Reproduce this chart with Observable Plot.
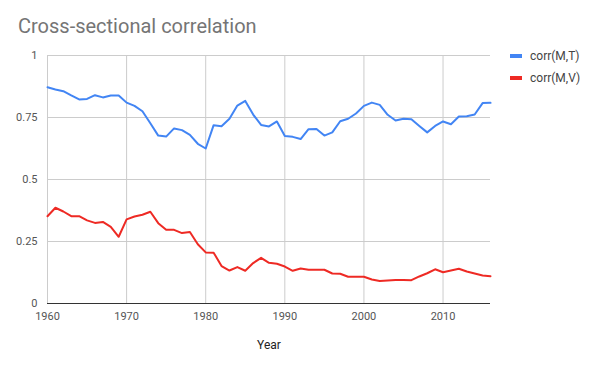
<!DOCTYPE html>
<html>
<head>
<meta charset="utf-8">
<script src="https://cdn.jsdelivr.net/npm/d3@7"></script>
<script src="https://cdn.jsdelivr.net/npm/@observablehq/plot@0.6"></script>
<style>
  html, body { margin: 0; padding: 0; background: #fff; }
  #wrap { position: relative; width: 599px; height: 370px; overflow: hidden; font-family: Roboto, sans-serif; }
  #title { height: 40px; box-sizing: border-box; padding: 16px 0 0 18px; font: 20px/20px Roboto, sans-serif; color: #757575; white-space: nowrap; }
  #legend { position: absolute; left: 510px; top: 48px; font: 12px Roboto, sans-serif; color: #444; }
  .item { display: flex; align-items: center; height: 16px; margin-bottom: 6px; }
  .sw { width: 12px; height: 4px; margin-right: 8px; }
</style>
</head>
<body>
<div id="wrap">
  <div id="title">Cross-sectional correlation</div>
  <div id="legend"></div>
  <div id="chart"></div>
</div>
<script>
const years = d3.range(1960, 2017);
const seriesNames = ["corr(M,T)", "corr(M,V)"];
const seriesColors = ["#4285f4", "#ee2a24"];
const corrMT = [
  0.872, 0.863, 0.856, 0.839, 0.823, 0.825, 0.840, 0.831, 0.839, 0.839,
  0.810, 0.797, 0.775, 0.727, 0.677, 0.673, 0.706, 0.699, 0.680, 0.644,
  0.625, 0.719, 0.715, 0.745, 0.798, 0.817, 0.762, 0.720, 0.714, 0.734,
  0.675, 0.672, 0.663, 0.703, 0.704, 0.677, 0.690, 0.735, 0.745, 0.766,
  0.797, 0.810, 0.801, 0.761, 0.738, 0.745, 0.743, 0.716, 0.690, 0.716,
  0.734, 0.723, 0.754, 0.755, 0.762, 0.808, 0.809
];
const corrMV = [
  0.352, 0.386, 0.371, 0.352, 0.352, 0.335, 0.325, 0.329, 0.309, 0.269,
  0.339, 0.351, 0.358, 0.370, 0.324, 0.297, 0.297, 0.284, 0.288, 0.239,
  0.206, 0.205, 0.151, 0.133, 0.147, 0.132, 0.163, 0.184, 0.164, 0.160,
  0.149, 0.132, 0.141, 0.136, 0.136, 0.136, 0.121, 0.120, 0.108, 0.108,
  0.108, 0.097, 0.091, 0.093, 0.095, 0.095, 0.094, 0.109, 0.122, 0.138,
  0.126, 0.133, 0.140, 0.129, 0.121, 0.113, 0.110
];
const xTicks = [1960, 1970, 1980, 1990, 2000, 2010];
const yTicks = [0, 0.25, 0.5, 0.75, 1];
const xLabel = "Year";

const rows = [];
years.forEach((yr, i) => {
  rows.push({year: yr, value: corrMT[i], series: seriesNames[0]});
  rows.push({year: yr, value: corrMV[i], series: seriesNames[1]});
});

const chart = Plot.plot({
  width: 599,
  height: 330,
  marginTop: 15,
  marginLeft: 47,
  marginRight: 109,
  marginBottom: 67,
  style: {fontFamily: "Roboto, sans-serif", fontSize: "11px", color: "#555", background: "#fff"},
  x: {domain: [1960, 2016]},
  y: {domain: [0, 1]},
  color: {domain: seriesNames, range: seriesColors},
  marks: [
    Plot.gridY(yTicks, {stroke: "#cccccc", strokeOpacity: 1}),
    Plot.gridX(xTicks, {stroke: "#cccccc", strokeOpacity: 1}),
    Plot.axisY(yTicks, {tickSize: 0, tickPadding: 10, label: null, tickFormat: d => String(d), fill: "#555", fontSize: 11}),
    Plot.axisX(xTicks, {tickSize: 0, tickPadding: 9, label: null, tickFormat: d => String(d), fill: "#555", fontSize: 11}),
    Plot.ruleY([0], {stroke: "#333"}),
    Plot.line(rows, {x: "year", y: "value", z: "series", stroke: "series", strokeWidth: 2, strokeLinejoin: "round"}),
    Plot.text([xLabel], {frameAnchor: "bottom", dy: 42, text: d => d, fill: "#222", fontSize: 12, lineAnchor: "middle"})
  ]
});
chart.style.overflow = "visible";
document.getElementById("chart").appendChild(chart);

const legend = document.getElementById("legend");
seriesNames.forEach((name, i) => {
  const item = document.createElement("div");
  item.className = "item";
  const sw = document.createElement("div");
  sw.className = "sw";
  sw.style.background = seriesColors[i];
  const label = document.createElement("span");
  label.textContent = name;
  item.appendChild(sw);
  item.appendChild(label);
  legend.appendChild(item);
});
</script>
</body>
</html>
